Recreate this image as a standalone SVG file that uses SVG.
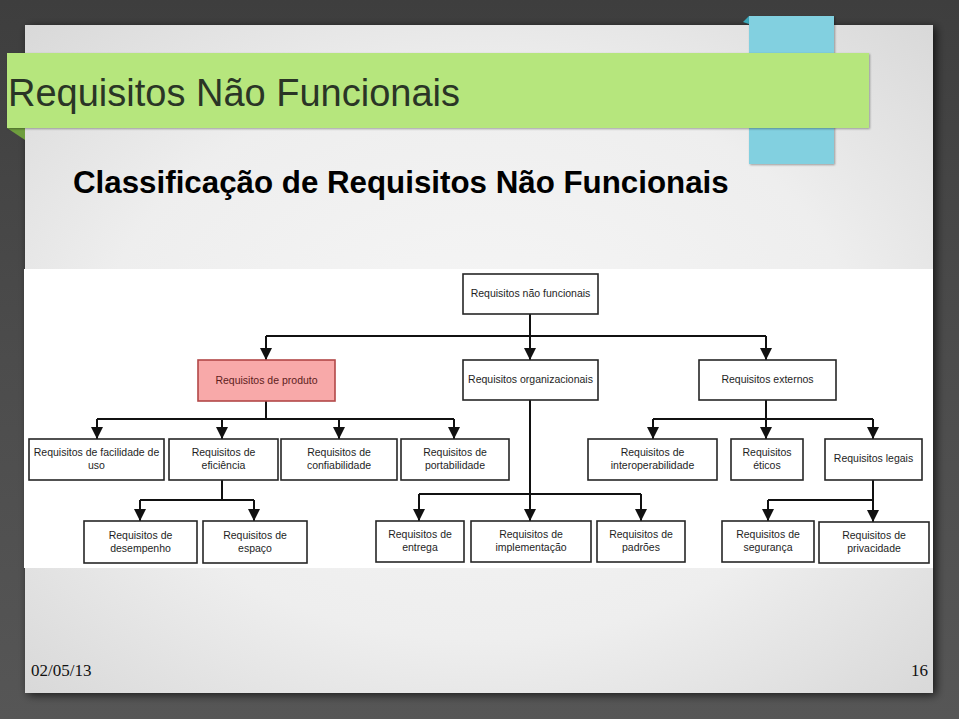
<svg xmlns="http://www.w3.org/2000/svg" width="959" height="719" viewBox="0 0 959 719">
<defs>
<linearGradient id="bg" x1="0" y1="0" x2="0" y2="1">
<stop offset="0" stop-color="#3e3e3e"/><stop offset="0.5" stop-color="#4c4c4c"/><stop offset="1" stop-color="#565656"/>
</linearGradient>
<radialGradient id="slide" cx="0.5" cy="0.5" r="0.7">
<stop offset="0" stop-color="#f6f6f6"/><stop offset="0.6" stop-color="#eeeeee"/><stop offset="1" stop-color="#d9d9d9"/>
</radialGradient>
<filter id="sh" x="-5%" y="-5%" width="110%" height="110%">
<feGaussianBlur in="SourceAlpha" stdDeviation="5"/><feOffset dx="3" dy="2"/>
<feComponentTransfer><feFuncA type="linear" slope="0.7"/></feComponentTransfer>
<feMerge><feMergeNode/><feMergeNode in="SourceGraphic"/></feMerge>
</filter>
<filter id="sh2" x="-5%" y="-10%" width="110%" height="130%">
<feGaussianBlur in="SourceAlpha" stdDeviation="1.2"/><feOffset dx="1" dy="1"/>
<feComponentTransfer><feFuncA type="linear" slope="0.35"/></feComponentTransfer>
<feMerge><feMergeNode/><feMergeNode in="SourceGraphic"/></feMerge>
</filter>
<marker id="ah" viewBox="0 0 12 12" refX="12" refY="6" markerWidth="12" markerHeight="12" markerUnits="userSpaceOnUse" orient="auto">
<path d="M0,0 L12,6 L0,12 z" fill="#111"/>
</marker>
<style>
.box{fill:#fff;stroke:#262626;stroke-width:1.6}
.pink{fill:#f8a9a9;stroke:#b24848;stroke-width:1.6}
.t{font-family:"Liberation Sans",Arial,sans-serif;font-size:10.5px;fill:#1e1e1e;text-anchor:middle}
.tp{fill:#5e1c1c}
.ln{fill:none;stroke:#111;stroke-width:2}
.ar{fill:none;stroke:#111;stroke-width:2;marker-end:url(#ah)}
</style>
</defs>
<rect x="0" y="0" width="959" height="719" fill="url(#bg)"/>
<rect x="25" y="25" width="908" height="668" fill="url(#slide)" filter="url(#sh)"/>
<!-- blue tab -->
<g id="tab">
<polygon points="743,22 749,16 749,24" fill="#3aa8ba"/>
<rect x="749" y="16" width="85" height="148" fill="#82d0e0" filter="url(#sh2)"/>
</g>
<!-- green banner -->
<g id="banner">
<polygon points="7,128 25,128 25,140" fill="#6f9e3e"/>
<rect x="7" y="53" width="862" height="75" fill="#b6e67d" filter="url(#sh2)"/>
<text x="8" y="106" font-family="'Liberation Sans',Arial,sans-serif" font-size="38" fill="#2a3526">Requisitos Não Funcionais</text>
</g>
<text x="73" y="193" font-family="'Liberation Sans',Arial,sans-serif" font-size="31.3" font-weight="bold" fill="#000">Classificação de Requisitos Não Funcionais</text>
<!-- diagram area -->
<rect x="24" y="269" width="909" height="299" fill="#fff"/>
<g id="connectors">
<path class="ar" d="M530,314 V360"/>
<path class="ln" d="M266,336 H766"/>
<path class="ar" d="M266,336 V360"/>
<path class="ar" d="M766,336 V360"/>
<path class="ln" d="M266,401 V419 M97,419 H454 M653,419 H873 M766,400 V419"/>
<path class="ar" d="M97,419 V439"/>
<path class="ar" d="M222,419 V439"/>
<path class="ar" d="M339,419 V439"/>
<path class="ar" d="M454,419 V439"/>
<path class="ar" d="M653,419 V439"/>
<path class="ar" d="M766,419 V439"/>
<path class="ar" d="M873,419 V439"/>
<path class="ln" d="M222,480 V500 M140,500 H254"/>
<path class="ar" d="M140,500 V521"/>
<path class="ar" d="M254,500 V521"/>
<path class="ar" d="M530,400 V521"/>
<path class="ln" d="M419,494 H641"/>
<path class="ar" d="M419,494 V521"/>
<path class="ar" d="M641,494 V521"/>
<path class="ar" d="M873,480 V522"/>
<path class="ln" d="M768,500 H873"/>
<path class="ar" d="M768,500 V521"/>
</g>
<g id="n-root"><rect class="box" x="463" y="274" width="135" height="40"/><text class="t" x="530.5" y="297">Requisitos não funcionais</text></g>
<g id="n-produto"><rect class="pink" x="198" y="360" width="137" height="41"/><text class="t tp" x="266.5" y="384">Requisitos de produto</text></g>
<g id="n-org"><rect class="box" x="463" y="360" width="135" height="40"/><text class="t" x="530.5" y="383">Requisitos organizacionais</text></g>
<g id="n-ext"><rect class="box" x="699" y="360" width="137" height="40"/><text class="t" x="767.5" y="383">Requisitos externos</text></g>
<g id="n-facil"><rect class="box" x="29" y="439" width="135" height="41"/><text class="t" x="96.5" y="456">Requisitos de facilidade de</text><text class="t" x="96.5" y="469">uso</text></g>
<g id="n-efic"><rect class="box" x="169" y="439" width="109" height="41"/><text class="t" x="223.5" y="456">Requisitos de</text><text class="t" x="223.5" y="469">eficiência</text></g>
<g id="n-conf"><rect class="box" x="281" y="439" width="116" height="41"/><text class="t" x="339" y="456">Requisitos de</text><text class="t" x="339" y="469">confiabilidade</text></g>
<g id="n-port"><rect class="box" x="401" y="439" width="108" height="41"/><text class="t" x="455" y="456">Requisitos de</text><text class="t" x="455" y="469">portabilidade</text></g>
<g id="n-inter"><rect class="box" x="588" y="439" width="129" height="41"/><text class="t" x="652.5" y="456">Requisitos de</text><text class="t" x="652.5" y="469">interoperabilidade</text></g>
<g id="n-eticos"><rect class="box" x="731" y="439" width="72" height="41"/><text class="t" x="767" y="456">Requisitos</text><text class="t" x="767" y="469">éticos</text></g>
<g id="n-legais"><rect class="box" x="825" y="439" width="97" height="41"/><text class="t" x="873.5" y="462">Requisitos legais</text></g>
<g id="n-desemp"><rect class="box" x="84" y="521" width="113" height="42"/><text class="t" x="140.5" y="539">Requisitos de</text><text class="t" x="140.5" y="552">desempenho</text></g>
<g id="n-espaco"><rect class="box" x="203" y="521" width="104" height="42"/><text class="t" x="255" y="539">Requisitos de</text><text class="t" x="255" y="552">espaço</text></g>
<g id="n-entrega"><rect class="box" x="376" y="521" width="88" height="41"/><text class="t" x="420" y="538">Requisitos de</text><text class="t" x="420" y="551">entrega</text></g>
<g id="n-impl"><rect class="box" x="471" y="521" width="120" height="41"/><text class="t" x="531" y="538">Requisitos de</text><text class="t" x="531" y="551">implementação</text></g>
<g id="n-padroes"><rect class="box" x="597" y="521" width="88" height="41"/><text class="t" x="641" y="538">Requisitos de</text><text class="t" x="641" y="551">padrões</text></g>
<g id="n-seg"><rect class="box" x="722" y="521" width="92" height="41"/><text class="t" x="768" y="538">Requisitos de</text><text class="t" x="768" y="551">segurança</text></g>
<g id="n-priv"><rect class="box" x="819" y="522" width="110" height="41"/><text class="t" x="874" y="539">Requisitos de</text><text class="t" x="874" y="552">privacidade</text></g>
<text x="31" y="676" font-family="'Liberation Serif','Times New Roman',serif" font-size="17" fill="#111">02/05/13</text>
<text x="928" y="676" font-family="'Liberation Serif','Times New Roman',serif" font-size="17" fill="#111" text-anchor="end">16</text>
</svg>
